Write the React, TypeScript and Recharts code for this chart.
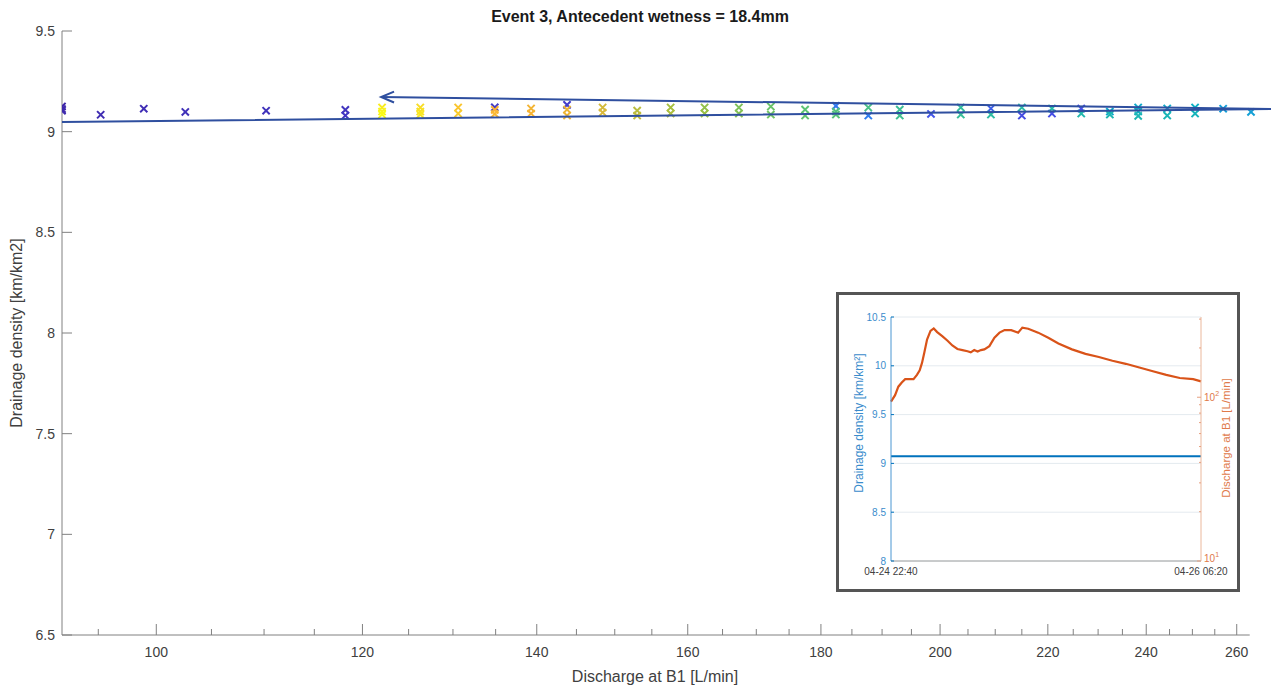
import React from "react";
import {
  ScatterChart,
  Scatter,
  ComposedChart,
  Line,
  XAxis,
  YAxis,
  CartesianGrid,
  ReferenceLine,
} from "recharts";

// ---- main scatter: discharge vs drainage density, coloured by time fraction ----
const pointQ = [
  92.0, 92.0, 92.0, 95.2, 98.9, 102.6, 110.2, 118.2, 118.2, 134.9, 143.8,
  215.0, 220.8, 226.6, 198.4, 209.2, 182.4, 187.7, 256.9, 263.3,
  232.4, 238.3, 244.5, 250.6, 238.3, 250.6, 244.5, 238.3, 232.4, 226.6,
  220.8, 215.0, 209.2, 203.7, 203.7, 193.0, 193.0, 187.7, 182.4, 182.4,
  177.5, 177.5, 172.2, 172.2, 167.4, 167.4, 162.4, 162.4, 157.6, 157.6,
  153.0, 153.0, 148.4, 148.4, 143.8, 143.8, 139.3, 139.3, 134.9, 134.9,
  130.6, 130.6, 126.3, 126.3, 126.3, 122.1, 122.1, 122.1,
];
const pointD = [
  9.125, 9.112, 9.104, 9.084, 9.114, 9.098, 9.104, 9.108, 9.08, 9.121, 9.133,
  9.08, 9.09, 9.115, 9.088, 9.115, 9.128, 9.08, 9.114, 9.098,
  9.1, 9.12, 9.115, 9.12, 9.1, 9.09, 9.08, 9.078, 9.085, 9.09,
  9.115, 9.12, 9.085, 9.12, 9.085, 9.11, 9.08, 9.12, 9.1, 9.085,
  9.11, 9.08, 9.125, 9.085, 9.12, 9.09, 9.12, 9.09, 9.12, 9.09,
  9.105, 9.08, 9.12, 9.095, 9.11, 9.08, 9.115, 9.09, 9.108, 9.088,
  9.12, 9.09, 9.12, 9.1, 9.085, 9.12, 9.1, 9.085,
];
const pointT = [
  0.0, 0.005, 0.01, 0.015, 0.02, 0.025, 0.03, 0.035, 0.04, 0.05, 0.055,
  0.09, 0.095, 0.1, 0.11, 0.13, 0.18, 0.19, 0.3, 0.31,
  0.36, 0.37, 0.38, 0.4, 0.41, 0.43, 0.44, 0.45, 0.46, 0.47,
  0.48, 0.49, 0.5, 0.51, 0.52, 0.53, 0.54, 0.56, 0.58, 0.59,
  0.6, 0.61, 0.62, 0.63, 0.65, 0.66, 0.68, 0.69, 0.71, 0.72,
  0.74, 0.75, 0.78, 0.79, 0.83, 0.84, 0.85, 0.86, 0.87, 0.88,
  0.9, 0.91, 0.94, 0.95, 0.96, 0.97, 0.985, 1.0,
];

// hysteresis arrow (annotation) in data units
const arrowQ = [92, 268, 122.0];
const arrowD = [9.048, 9.113, 9.172];
const headQ = [123.4, 122.0, 123.4];
const headD = [9.199, 9.172, 9.145];

const xTicks = [
  95, 100, 105, 110, 115, 120, 125, 130, 135, 140, 145, 150, 155, 160, 165,
  170, 175, 180, 185, 190, 195, 200, 205, 210, 215, 220, 225, 230, 235, 240,
  245, 250, 255, 260,
];
const yTicks = [6.5, 7, 7.5, 8, 8.5, 9, 9.5];

// ---- inset: time series ----
const insetMinutes = [
  0, 25, 45, 66, 87, 107, 138, 159, 176, 190, 204, 221, 242, 262, 283, 314,
  345, 376, 407, 438, 469, 489, 510, 531, 551, 572, 603, 634, 665, 696, 737,
  779, 805, 841, 902, 964, 1026, 1109, 1192, 1274, 1357, 1439, 1522, 1605,
  1687, 1770, 1852, 1900,
];
const insetQ = [
  94, 103, 116, 123, 129, 129, 129, 137, 146, 162, 187, 225, 254, 263, 250,
  236, 222, 207, 197, 194, 191, 188, 194, 190, 194, 196, 205, 231, 248, 257,
  257, 248, 266, 262, 248, 231, 213, 196, 184, 176, 167, 160, 152, 144, 137,
  131, 129, 125,
];
const insetDensityMinutes = [0, 1900];
const insetDensity = [9.072, 9.072];
const insetLeftTicks = [8, 8.5, 9, 9.5, 10, 10.5];
const insetRightTicks = [10, 20, 30, 40, 50, 60, 70, 80, 90, 100, 200, 300];
const insetTimeLabels = ["04-24 22:40", "04-26 06:20"];

const FONT = '"Liberation Sans", Arial, Helvetica, sans-serif';
const AXIS = "#808080";
const TEXT = "#404040";
const BLUE = "#0072bd";
const ORANGE = "#d95319";

// parula-like colormap
const PARULA: [number, string][] = [
  [0.0, "#3e26a8"],
  [0.1, "#4650e8"],
  [0.2, "#2c82f0"],
  [0.3, "#149ed8"],
  [0.4, "#0cb0c4"],
  [0.5, "#2ebca4"],
  [0.6, "#5cc474"],
  [0.7, "#a0c040"],
  [0.8, "#e0b83a"],
  [0.87, "#fbb232"],
  [0.93, "#f8d82a"],
  [1.0, "#f9fb15"],
];

function parula(t: number) {
  const hex = (s: string) => [1, 3, 5].map((i) => parseInt(s.slice(i, i + 2), 16));
  for (let i = 1; i < PARULA.length; i++) {
    if (t <= PARULA[i][0]) {
      const [t0, c0] = PARULA[i - 1];
      const [t1, c1] = PARULA[i];
      const f = (t - t0) / (t1 - t0);
      const a = hex(c0);
      const b = hex(c1);
      const c = a.map((v, k) => Math.round(v + (b[k] - v) * f));
      return `rgb(${c[0]},${c[1]},${c[2]})`;
    }
  }
  return PARULA[PARULA.length - 1][1];
}

const points = pointQ.map((q, i) => ({ q, d: pointD[i], t: pointT[i] }));
const arrowPath = arrowQ.map((q, i) => ({ q, d: arrowD[i] }));
const arrowHead = headQ.map((q, i) => ({ q, d: headD[i] }));
const insetRows = insetMinutes.map((t, i) => ({ t, q: insetQ[i] }));
const insetDensityRows = insetDensityMinutes.map((t, i) => ({ t, d: insetDensity[i] }));

const XMark = (props: any) => {
  const { cx, cy, payload } = props;
  if (cx == null || cy == null) return <g />;
  const r = 3.6;
  return (
    <path
      d={`M${cx - r},${cy - r}L${cx + r},${cy + r}M${cx - r},${cy + r}L${cx + r},${cy - r}`}
      stroke={parula(payload.t)}
      strokeWidth={2}
      fill="none"
    />
  );
};

const XTick = (props: any) => {
  const { x, y, payload } = props;
  const v = payload.value;
  const major = v % 20 === 0;
  return (
    <g>
      <line x1={x} x2={x} y1={y} y2={y - (major ? 11 : 6)} stroke={AXIS} />
      {major && (
        <text x={x} y={y + 22} textAnchor="middle" fontSize={14} fill={TEXT} fontFamily={FONT}>
          {v}
        </text>
      )}
    </g>
  );
};

const YTick = (props: any) => {
  const { x, y, payload } = props;
  return (
    <g>
      <line x1={x} x2={x + 10} y1={y} y2={y} stroke={AXIS} />
      <text x={x - 7} y={y + 5} textAnchor="end" fontSize={14} fill={TEXT} fontFamily={FONT}>
        {String(payload.value)}
      </text>
    </g>
  );
};

const InsetLeftTick = (props: any) => {
  const { x, y, payload } = props;
  return (
    <g>
      <line x1={x} x2={x + 3} y1={y} y2={y} stroke={BLUE} />
      <text x={x - 5} y={y + 3.5} textAnchor="end" fontSize={10} fill="#3a8ccc" fontFamily={FONT}>
        {String(payload.value)}
      </text>
    </g>
  );
};

const InsetRightTick = (props: any) => {
  const { x, y, payload } = props;
  const v = payload.value;
  const major = v === 10 || v === 100;
  return (
    <g>
      <line x1={x} x2={x - (major ? 4 : 2)} y1={y} y2={y} stroke="#e6a080" />
      {major && (
        <text x={x + 3} y={y + (v === 10 ? 1 : 4)} textAnchor="start" fontSize={10} fill="#e07a4a" fontFamily={FONT}>
          10
          <tspan dy={-5} fontSize={7}>
            {v === 10 ? "1" : "2"}
          </tspan>
        </text>
      )}
    </g>
  );
};

const InsetTimeTick = (props: any) => {
  const { x, y, index } = props;
  return (
    <text x={x} y={y + 14} textAnchor="middle" fontSize={10} fill={TEXT} fontFamily={FONT}>
      {insetTimeLabels[index]}
    </text>
  );
};

const rotated = (cx: number, cy: number, color: string, size: number): React.CSSProperties => ({
  position: "absolute",
  left: cx,
  top: cy,
  transform: "translate(-50%, -50%) rotate(-90deg)",
  whiteSpace: "nowrap",
  fontFamily: FONT,
  fontSize: size,
  color,
});

function Inset() {
  return (
    <div
      style={{
        position: "absolute",
        left: 836,
        top: 292,
        width: 404,
        height: 300,
        boxSizing: "border-box",
        border: "3px solid #555",
        background: "#fff",
      }}
    >
      <ComposedChart width={398} height={294} margin={{ top: 22, right: 0, bottom: 0, left: 0 }}>
        <CartesianGrid yAxisId="left" vertical={false} stroke="#e4eaef" />
        <XAxis
          dataKey="t"
          type="number"
          domain={[0, 1900]}
          ticks={[0, 1900]}
          interval={0}
          height={28}
          tickSize={0}
          tickMargin={0}
          tick={<InsetTimeTick />}
          axisLine={{ stroke: "#a0a0a0" }}
        />
        <YAxis
          yAxisId="left"
          type="number"
          domain={[8, 10.5]}
          ticks={insetLeftTicks}
          interval={0}
          width={52}
          tickSize={0}
          tickMargin={0}
          tick={<InsetLeftTick />}
          axisLine={{ stroke: "#4a96d2" }}
        />
        <YAxis
          yAxisId="right"
          orientation="right"
          type="number"
          scale="log"
          domain={[10, 309]}
          allowDataOverflow
          ticks={insetRightTicks}
          interval={0}
          width={36}
          tickSize={0}
          tickMargin={0}
          tick={<InsetRightTick />}
          axisLine={{ stroke: "#ebb89c" }}
        />
        <Line
          yAxisId="left"
          data={insetDensityRows}
          dataKey="d"
          stroke={BLUE}
          strokeWidth={2}
          dot={false}
          isAnimationActive={false}
        />
        <Line
          yAxisId="right"
          data={insetRows}
          dataKey="q"
          stroke={ORANGE}
          strokeWidth={2.2}
          dot={false}
          isAnimationActive={false}
        />
      </ComposedChart>
      <div style={rotated(20, 128, "#3a8ccc", 12)}>Drainage density [km/km²]</div>
      <div style={rotated(387, 143, "#e07a4a", 11.5)}>Discharge at B1 [L/min]</div>
    </div>
  );
}

export default function App() {
  return (
    <div style={{ position: "absolute", left: 0, top: 0, width: 1272, height: 691, background: "#fff" }}>
      <ScatterChart width={1272} height={691} margin={{ top: 31, right: 1, bottom: 0, left: 0 }}>
        <XAxis
          dataKey="q"
          type="number"
          scale="log"
          domain={[92, 268]}
          allowDataOverflow
          ticks={xTicks}
          interval={0}
          height={56}
          tickSize={0}
          tickMargin={0}
          tick={<XTick />}
          axisLine={false}
        />
        <YAxis
          dataKey="d"
          type="number"
          domain={[6.5, 9.5]}
          ticks={yTicks}
          interval={0}
          width={62}
          tickSize={0}
          tickMargin={0}
          tick={<YTick />}
          axisLine={{ stroke: AXIS }}
        />
        <ReferenceLine
          segment={[
            { x: 92, y: 6.5 },
            { x: 263, y: 6.5 },
          ]}
          stroke={AXIS}
        />
        <Scatter data={points} shape={<XMark />} isAnimationActive={false} />
        <Scatter
          data={arrowPath}
          line={{ stroke: "#2f4f9f", strokeWidth: 2 }}
          shape={() => <g />}
          fill="#2f4f9f"
          isAnimationActive={false}
        />
        <Scatter
          data={arrowHead}
          line={{ stroke: "#2f4f9f", strokeWidth: 2 }}
          shape={() => <g />}
          fill="#2f4f9f"
          isAnimationActive={false}
        />
      </ScatterChart>
      <div
        style={{
          position: "absolute",
          left: 640,
          top: 8,
          transform: "translateX(-50%)",
          whiteSpace: "nowrap",
          fontFamily: FONT,
          fontWeight: "bold",
          fontSize: 16,
          color: "#1a1a1a",
        }}
      >
        Event 3, Antecedent wetness = 18.4mm
      </div>
      <div
        style={{
          position: "absolute",
          left: 655,
          top: 668,
          transform: "translateX(-50%)",
          whiteSpace: "nowrap",
          fontFamily: FONT,
          fontSize: 16,
          color: TEXT,
        }}
      >
        Discharge at B1 [L/min]
      </div>
      <div style={rotated(17, 333, TEXT, 16)}>Drainage density [km/km2]</div>
      <Inset />
    </div>
  );
}
